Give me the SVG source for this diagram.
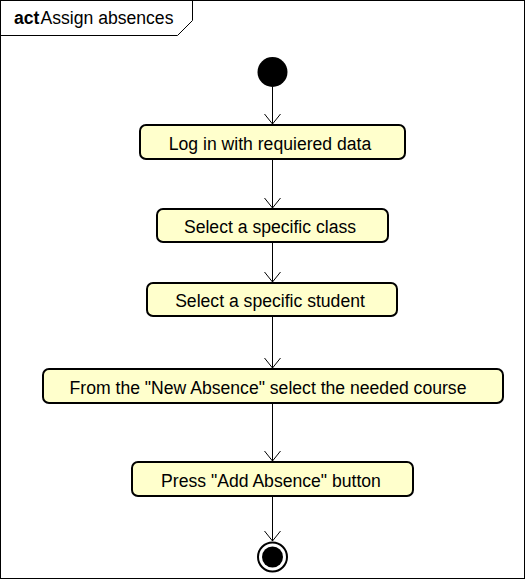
<svg xmlns="http://www.w3.org/2000/svg" width="526" height="580" viewBox="0 0 526 580">
<style>
.act{fill:#FFFFCC;stroke:#000;stroke-width:2}
.t{font-family:"Liberation Sans",Arial,sans-serif;font-size:17.6px;fill:#000;text-anchor:middle}
.c{stroke:#000;stroke-width:1;fill:none}
</style>
<defs>
<marker id="arr" markerWidth="20" markerHeight="20" refX="10" refY="10" orient="auto" markerUnits="userSpaceOnUse">
<path d="M0,2 L10,10 L0,18" fill="none" stroke="#000" stroke-width="1"/>
</marker>
</defs>
<rect x="0" y="0" width="526" height="580" fill="#fff"/>
<g id="frame">
<rect x="0.5" y="0.5" width="524" height="578" fill="none" stroke="#000" stroke-width="1"/>
<path d="M0.5,35.5 L177.5,35.5 L192.5,20.5 L192.5,0.5" fill="none" stroke="#000" stroke-width="1"/>
<text x="14" y="24" font-family="Liberation Sans,Arial,sans-serif" font-size="17.6"><tspan font-weight="bold">act</tspan><tspan dx="1">Assign absences</tspan></text>
</g>
<g id="connectors">
<line class="c" x1="272.5" y1="87" x2="272.5" y2="124" marker-end="url(#arr)"/>
<line class="c" x1="272.5" y1="160" x2="272.5" y2="208" marker-end="url(#arr)"/>
<line class="c" x1="272.5" y1="243" x2="272.5" y2="282" marker-end="url(#arr)"/>
<line class="c" x1="272.5" y1="317" x2="272.5" y2="368" marker-end="url(#arr)"/>
<line class="c" x1="272.5" y1="404" x2="272.5" y2="461" marker-end="url(#arr)"/>
<line class="c" x1="272.5" y1="497" x2="272.5" y2="541" marker-end="url(#arr)"/>
</g>
<g id="start"><circle cx="272.5" cy="72" r="15" fill="#000"/></g>
<g id="n1"><rect class="act" x="140" y="125" width="265" height="34" rx="6"/><text class="t" x="270" y="149.5">Log in with requiered data</text></g>
<g id="n2"><rect class="act" x="157" y="209" width="231" height="33" rx="6"/><text class="t" x="270" y="232.5">Select a specific class</text></g>
<g id="n3"><rect class="act" x="147" y="283" width="250" height="33" rx="6"/><text class="t" x="270" y="306.5">Select a specific student</text></g>
<g id="n4"><rect class="act" x="43" y="369" width="460" height="34" rx="6"/><text class="t" x="268" y="393.5">From the "New Absence" select the needed course</text></g>
<g id="n5"><rect class="act" x="132" y="462" width="281" height="34" rx="6"/><text class="t" x="271" y="486.5">Press "Add Absence" button</text></g>
<g id="end"><circle cx="272.5" cy="557" r="14.5" fill="#fff" stroke="#000" stroke-width="2"/><circle cx="272.5" cy="557" r="10.5" fill="#000"/></g>
</svg>
